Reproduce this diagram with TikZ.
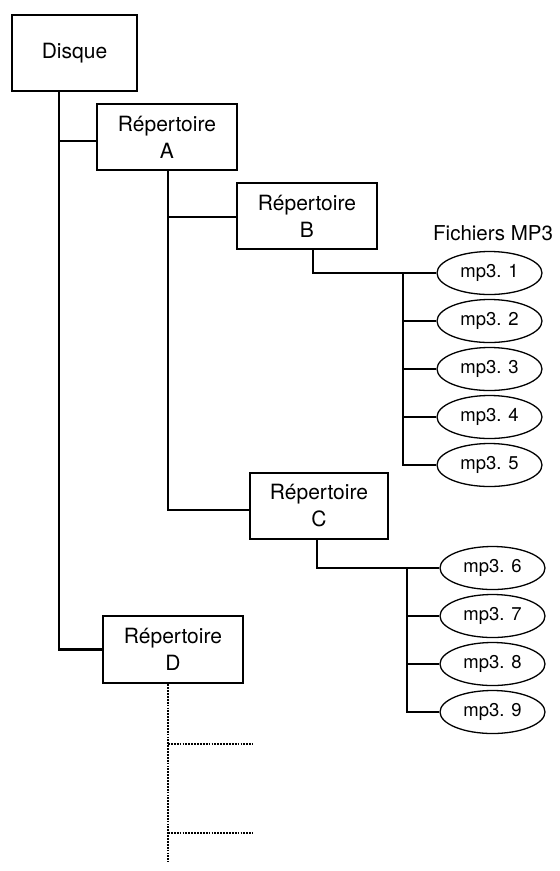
\documentclass[tikz,border=0pt]{standalone}
\usepackage{fontspec}
\setmainfont{TeX Gyre Heros}
\usetikzlibrary{shapes.geometric}
\tikzset{
  dirbox/.style={draw, line width=2.6pt, rectangle, inner sep=0pt, align=center,
    font=\fontsize{21}{27}\selectfont},
  filenode/.style={draw, line width=1.3pt, ellipse, inner sep=0pt,
    minimum width=105pt, minimum height=43pt, font=\fontsize{18.5}{20}\selectfont},
  conn/.style={line width=2.5pt, line join=miter},
  dotline/.style={line width=2.6pt, dash pattern=on 1.8pt off 1.1pt}
}
\begin{document}
\begin{tikzpicture}[x=1pt,y=-1pt]
\useasboundingbox (0,0) rectangle (560,871);
% directories
\node[dirbox, minimum width=125pt, minimum height=76pt] (disque) at (74.5,53) {Disque};
\node[dirbox, minimum width=140pt, minimum height=66pt] (A) at (167,137) {Répertoire\\A};
\node[dirbox, minimum width=140pt, minimum height=66pt] (B) at (307,216) {Répertoire\\B};
\node[dirbox, minimum width=138pt, minimum height=66pt] (C) at (319,506) {Répertoire\\C};
\node[dirbox, minimum width=140pt, minimum height=67pt] (D) at (173,649.5) {Répertoire\\D};
% label
\node[anchor=west, inner sep=0pt, font=\fontsize{20.5}{24}\selectfont] (lbl) at (433,233) {Fichiers MP3};
% files of B
\node[filenode] (m1) at (489.5,273) {mp3. 1};
\node[filenode] (m2) at (489.5,321) {mp3. 2};
\node[filenode] (m3) at (489.5,369) {mp3. 3};
\node[filenode] (m4) at (489.5,417) {mp3. 4};
\node[filenode] (m5) at (489.5,465) {mp3. 5};
% files of C
\node[filenode] (m6) at (492.5,568) {mp3. 6};
\node[filenode] (m7) at (492.5,616) {mp3. 7};
\node[filenode] (m8) at (492.5,664) {mp3. 8};
\node[filenode] (m9) at (492.5,712) {mp3. 9};
% bus coordinates
\coordinate (busB) at (403,0);
\coordinate (busC) at (407,0);
% disque trunk
\draw[conn] ([xshift=-15.5pt]disque.south) |- (D.west);
\draw[conn] ([yshift=-4pt]A.west) -| ([xshift=-15.5pt]disque.south);
% A trunk
\draw[conn] ([xshift=1pt]A.south) |- ([yshift=-4pt]C.west);
\draw[conn] ([yshift=-1pt]B.west) -| ([xshift=1pt]A.south);
% B to files
\draw[conn] ([xshift=6pt]B.south) |- (m1.west);
\draw[conn] (busB |- m1.west) |- (m5.west);
\draw[conn] (busB |- m2.west) -- (m2.west);
\draw[conn] (busB |- m3.west) -- (m3.west);
\draw[conn] (busB |- m4.west) -- (m4.west);
% C to files
\draw[conn] ([xshift=-2pt]C.south) |- (m6.west);
\draw[conn] (busC |- m6.west) |- (m9.west);
\draw[conn] (busC |- m7.west) -- (m7.west);
\draw[conn] (busC |- m8.west) -- (m8.west);
% D dotted
\coordinate (dend) at (168,862);
\coordinate (e1) at (253,744);
\coordinate (e2) at (253,833);
\draw[dotline] ([xshift=-5pt]D.south) -- (dend);
\draw[dotline] (e1 -| dend) -- (e1);
\draw[dotline] (e2 -| dend) -- (e2);
\end{tikzpicture}
\end{document}
